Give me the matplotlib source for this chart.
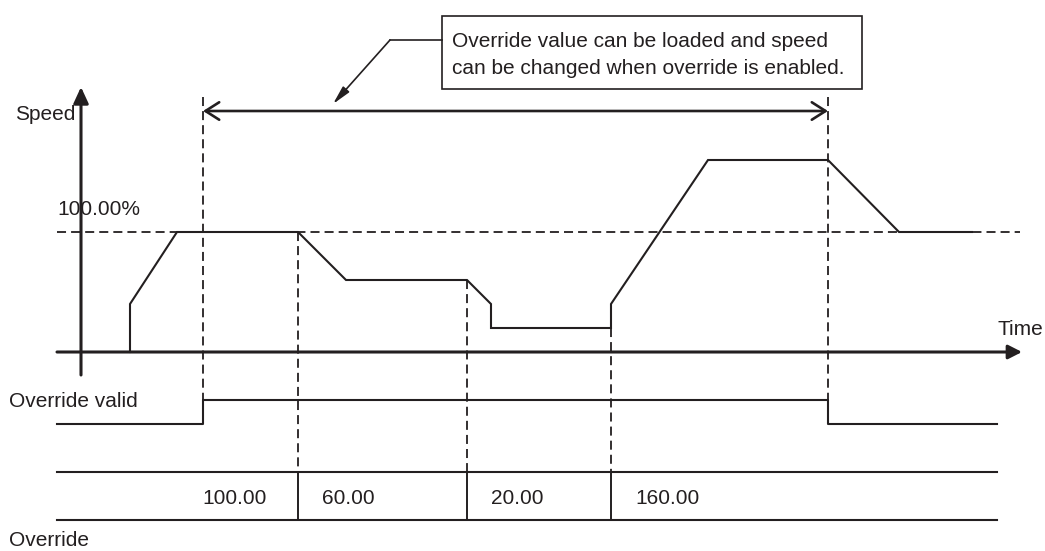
import matplotlib
matplotlib.use('Agg')
import matplotlib.pyplot as plt
from matplotlib.patches import Rectangle

plt.rcParams['font.family'] = ['Liberation Sans', 'DejaVu Sans']

# ---------------- data ----------------
speed_t = [130, 130, 177, 298, 346, 467, 491, 491, 611, 611, 708, 828, 899, 972]
speed_pct = [0, 40, 100, 100, 60, 60, 40, 20, 20, 40, 160, 160, 100, 100]
override_change_t = [298, 467, 611]
override_values = ["100.00", "60.00", "20.00", "160.00"]
valid_t = [57, 203, 203, 828, 828, 997]
valid_state = [0, 0, 1, 1, 0, 0]
enable_t = [203, 828]
reference_pct = 100

# ---------------- layout helpers ----------------
W, H = 1045, 551
BASE, SCALE = 352, 1.2          # pixel row of 0 % and pixels per %
def Y(p):                        # pixel row -> speed-axis units
    return (BASE - p) / SCALE

C = '#231f20'
FS = 15

fig = plt.figure(figsize=(W / 100, H / 100), dpi=100)
ax = fig.add_axes([0, 0, 1, 1])
ax.set_xlim(0, W)
ax.set_ylim(Y(H), Y(0))
ax.axis('off')

dash = (0, (5.0, 2.8))
DLW = 1.3

# speed axis and time axis
ax.annotate('', xy=(81, Y(87)), xytext=(81, Y(375)),
            arrowprops=dict(arrowstyle='-|>,head_length=0.65,head_width=0.3',
                            mutation_scale=15, lw=2.2, color=C,
                            shrinkA=0, shrinkB=0))
ax.annotate('', xy=(1022, 0), xytext=(57, 0),
            arrowprops=dict(arrowstyle='-|>,head_length=0.55,head_width=0.28',
                            mutation_scale=15, lw=2.2, color=C,
                            shrinkA=0, shrinkB=0))

# 100 % reference dashed line
ax.plot([57, 1020], [reference_pct, reference_pct], color=C, lw=DLW, ls=dash)

# speed profile
ax.plot(speed_t, speed_pct, color=C, lw=1.5, solid_joinstyle='miter')

# dashed verticals at override enable / disable
for t in enable_t:
    ax.plot([t, t], [Y(97), Y(400)], color=C, lw=DLW, ls=dash)
# dashed verticals at override changes
for t in override_change_t:
    top = speed_pct[speed_t.index(t)]
    ax.plot([t, t], [top, Y(472)], color=C, lw=DLW, ls=dash)

# double arrow for enabled range
ax.annotate('', xy=(enable_t[1], Y(111)), xytext=(enable_t[0], Y(111)),
            arrowprops=dict(arrowstyle='<->,head_length=0.55,head_width=0.35',
                            mutation_scale=18, lw=1.9, color=C,
                            shrinkA=0, shrinkB=0))

# callout box
ax.add_patch(Rectangle((442, Y(89)), 862 - 442, Y(16) - Y(89),
                       fill=False, ec=C, lw=1.2))
ax.text(452, Y(47), "Override value can be loaded and speed",
        fontsize=FS, color=C, ha='left', va='baseline')
ax.text(452, Y(74), "can be changed when override is enabled.",
        fontsize=FS, color=C, ha='left', va='baseline')
ax.plot([442, 390], [Y(40), Y(40)], color=C, lw=1.2)
ax.annotate('', xy=(333, Y(104)), xytext=(390, Y(40)),
            arrowprops=dict(arrowstyle='-|>,head_length=0.8,head_width=0.18',
                            mutation_scale=14, lw=1.2, color=C,
                            shrinkA=0, shrinkB=0))

# override valid signal
lvl = {0: Y(424), 1: Y(400)}
ax.plot(valid_t, [lvl[s] for s in valid_state], color=C, lw=1.5)

# override value table
ax.plot([57, 997], [Y(472), Y(472)], color=C, lw=1.5)
ax.plot([57, 997], [Y(520), Y(520)], color=C, lw=1.5)
for t in override_change_t:
    ax.plot([t, t], [Y(472), Y(520)], color=C, lw=1.4)
ax.text(override_change_t[0] - 31, Y(504), override_values[0],
        fontsize=FS, color=C, ha='right', va='baseline')
for t, v in zip(override_change_t, override_values[1:]):
    ax.text(t + 24, Y(504), v, fontsize=FS, color=C, ha='left', va='baseline')

# labels
ax.text(75, Y(120), "Speed", fontsize=FS, color=C, ha='right', va='baseline')
ax.text(57, Y(215), "100.00%", fontsize=FS, color=C, ha='left', va='baseline')
ax.text(997, Y(335), "Time", fontsize=FS, color=C, ha='left', va='baseline')
ax.text(9, Y(407), "Override valid", fontsize=FS, color=C, ha='left', va='baseline')
ax.text(9, Y(546), "Override", fontsize=FS, color=C, ha='left', va='baseline')

fig.savefig('out.png', dpi=100)
